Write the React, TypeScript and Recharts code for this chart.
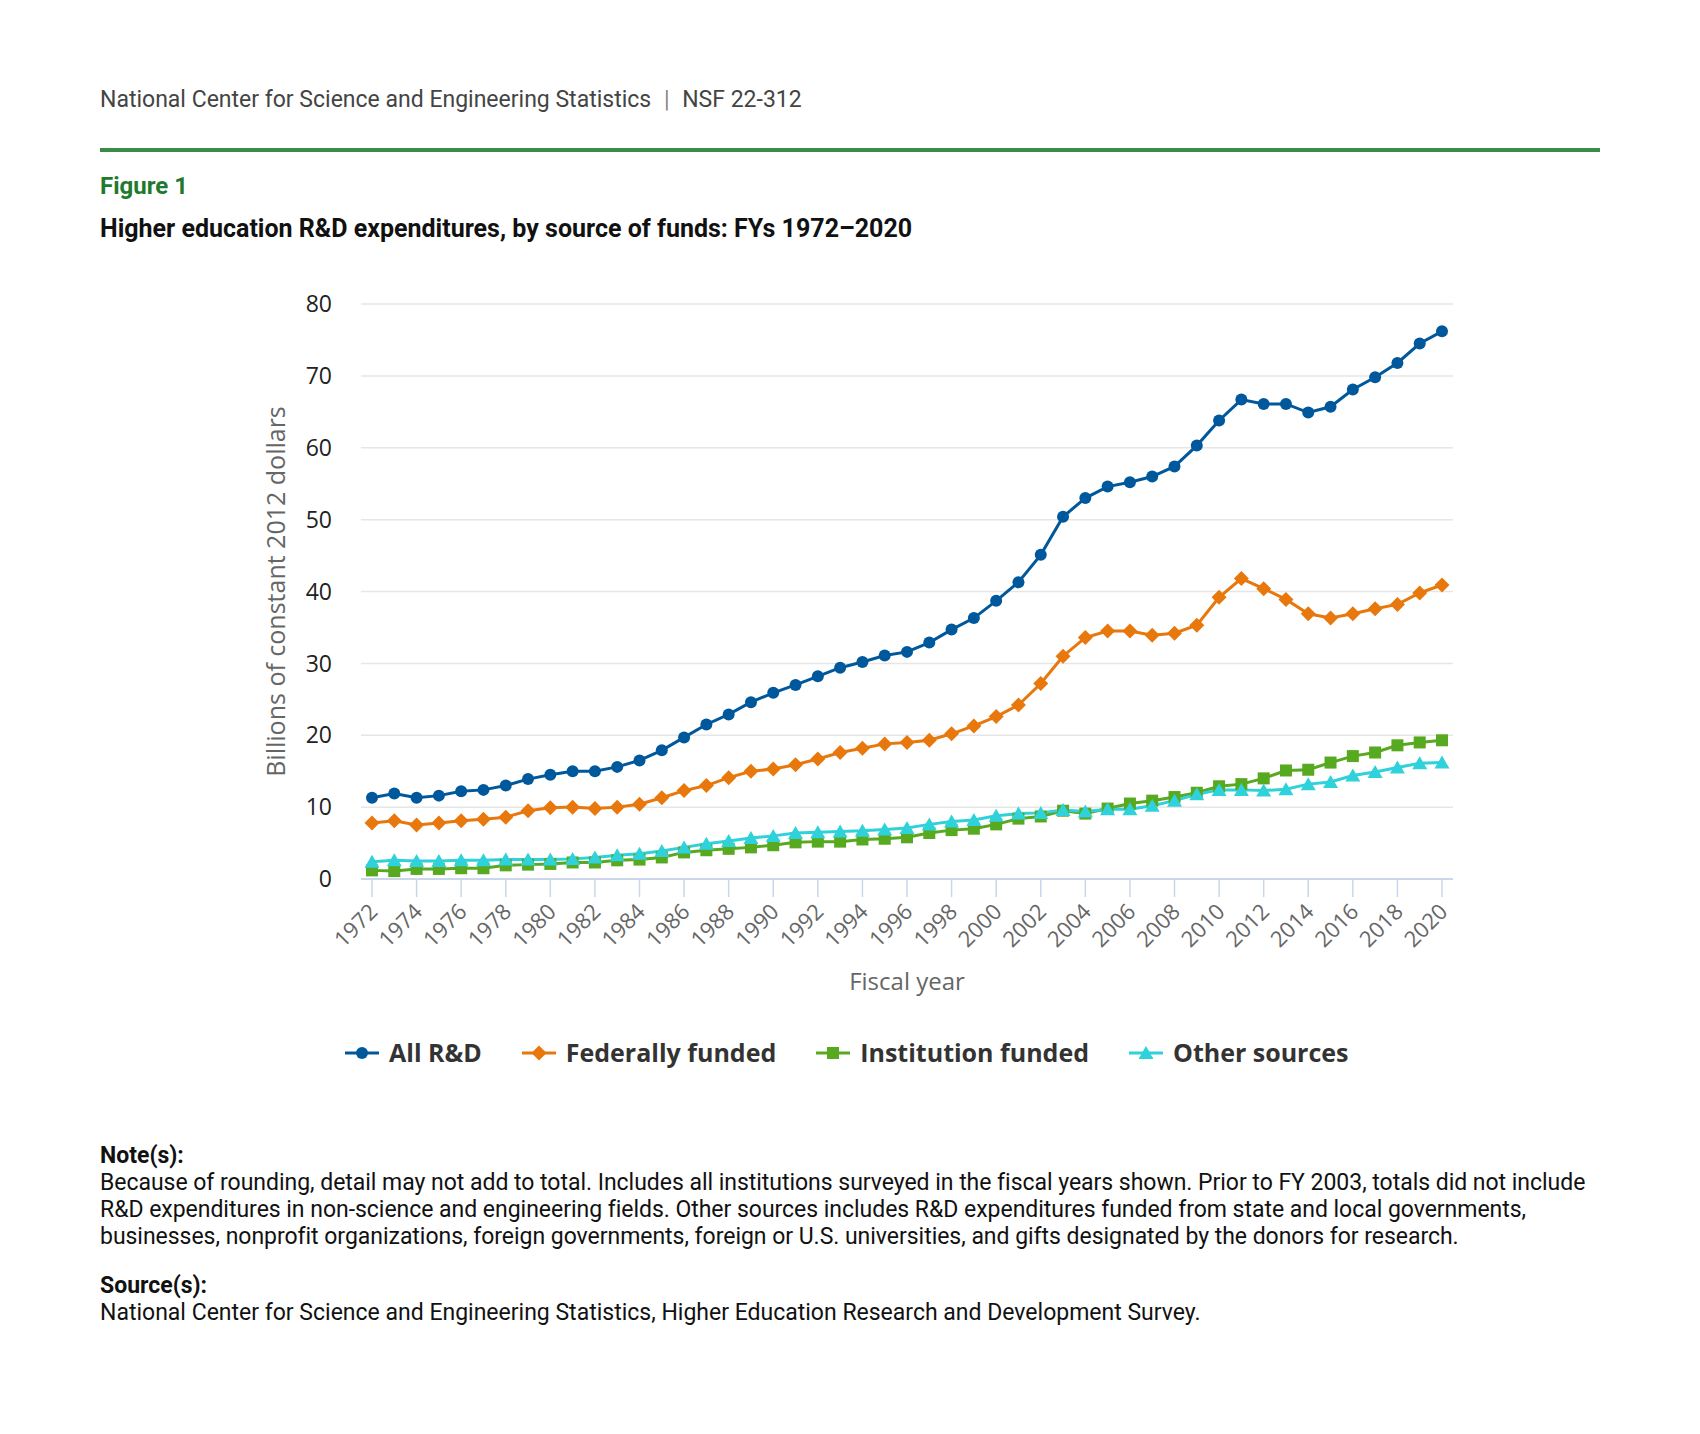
import { LineChart, Line, XAxis, YAxis, CartesianGrid, Legend } from 'recharts'

const years = [
  '1972', '1973', '1974', '1975', '1976', '1977', '1978', '1979', '1980', '1981',
  '1982', '1983', '1984', '1985', '1986', '1987', '1988', '1989', '1990', '1991',
  '1992', '1993', '1994', '1995', '1996', '1997', '1998', '1999', '2000', '2001',
  '2002', '2003', '2004', '2005', '2006', '2007', '2008', '2009', '2010', '2011',
  '2012', '2013', '2014', '2015', '2016', '2017', '2018', '2019', '2020',
]

const allRD = [
  11.3, 11.9, 11.3, 11.6, 12.2, 12.4, 13.0, 13.9, 14.5, 15.0,
  15.0, 15.6, 16.5, 17.9, 19.7, 21.5, 22.9, 24.6, 25.9, 27.0,
  28.2, 29.4, 30.2, 31.1, 31.6, 32.9, 34.7, 36.3, 38.7, 41.3,
  45.1, 50.4, 53.0, 54.6, 55.2, 56.0, 57.4, 60.3, 63.8, 66.7,
  66.1, 66.1, 64.9, 65.7, 68.1, 69.8, 71.8, 74.5, 76.2,
]

const federal = [
  7.8, 8.1, 7.5, 7.8, 8.1, 8.3, 8.6, 9.5, 9.9, 10.0,
  9.8, 10.0, 10.4, 11.3, 12.3, 13.0, 14.1, 15.0, 15.3, 15.9,
  16.7, 17.6, 18.2, 18.8, 19.0, 19.3, 20.2, 21.3, 22.6, 24.2,
  27.2, 31.0, 33.6, 34.5, 34.5, 33.9, 34.2, 35.3, 39.2, 41.8,
  40.4, 38.9, 36.9, 36.3, 36.9, 37.6, 38.2, 39.8, 40.9,
]

const institution = [
  1.2, 1.1, 1.4, 1.4, 1.5, 1.5, 1.9, 2.0, 2.1, 2.3,
  2.3, 2.6, 2.7, 3.0, 3.7, 4.0, 4.2, 4.4, 4.7, 5.1,
  5.2, 5.2, 5.5, 5.6, 5.8, 6.4, 6.8, 7.0, 7.6, 8.4,
  8.7, 9.5, 9.1, 9.8, 10.5, 10.9, 11.4, 12.0, 12.9, 13.2,
  14.0, 15.1, 15.2, 16.2, 17.1, 17.6, 18.6, 19.0, 19.3,
]

const other = [
  2.4, 2.6, 2.5, 2.5, 2.6, 2.6, 2.7, 2.7, 2.7, 2.8,
  3.0, 3.3, 3.5, 3.9, 4.4, 4.9, 5.3, 5.7, 6.0, 6.4,
  6.5, 6.6, 6.7, 6.9, 7.1, 7.6, 8.0, 8.2, 8.8, 9.1,
  9.2, 9.6, 9.4, 9.7, 9.7, 10.2, 10.9, 11.8, 12.4, 12.4,
  12.3, 12.5, 13.2, 13.5, 14.4, 14.9, 15.5, 16.1, 16.2,
]

const yTicks = [0, 10, 20, 30, 40, 50, 60, 70, 80]

const series = [
  { key: 'all', name: 'All R&D', color: '#00589c', marker: 'circle' },
  { key: 'federal', name: 'Federally funded', color: '#e8770c', marker: 'diamond' },
  { key: 'institution', name: 'Institution funded', color: '#57a91f', marker: 'square' },
  { key: 'other', name: 'Other sources', color: '#2fd1da', marker: 'triangle' },
]

const data = years.map((year, i) => ({
  year,
  all: allRD[i],
  federal: federal[i],
  institution: institution[i],
  other: other[i],
}))

const chartFont = '"Open Sans", sans-serif'
const textFont = 'Roboto, sans-serif'

function Marker({ type, cx, cy, color }: { type: string; cx: number; cy: number; color: string }) {
  if (type === 'circle') return <circle cx={cx} cy={cy} r={6} fill={color} />
  if (type === 'diamond')
    return <path d={`M${cx},${cy - 7.5}L${cx + 7.5},${cy}L${cx},${cy + 7.5}L${cx - 7.5},${cy}Z`} fill={color} />
  if (type === 'square') return <rect x={cx - 6} y={cy - 6} width={12} height={12} fill={color} />
  return <path d={`M${cx},${cy - 7}L${cx + 7.5},${cy + 6}L${cx - 7.5},${cy + 6}Z`} fill={color} />
}

const makeDot = (type: string, color: string) => (props: any) => {
  const { cx, cy, index } = props
  if (cx == null || cy == null) return <g key={`d-${index}`} />
  return <Marker key={`d-${index}`} type={type} cx={cx} cy={cy} color={color} />
}

function YearTick(props: any) {
  const { x, y, payload } = props
  return (
    <g transform={`translate(${x + 7},${y + 16})`}>
      <text transform="rotate(-45)" textAnchor="end" fill="#666" fontSize={22} fontFamily={chartFont}>
        {payload.value}
      </text>
    </g>
  )
}

function LegendContent() {
  return (
    <div style={{ display: 'flex', alignItems: 'center', gap: 40, fontFamily: chartFont }}>
      {series.map((s) => (
        <div key={s.key} style={{ display: 'flex', alignItems: 'center' }}>
          <svg width={34} height={20} style={{ marginRight: 10 }}>
            <line x1={0} y1={10} x2={34} y2={10} stroke={s.color} strokeWidth={3} />
            <Marker type={s.marker} cx={17} cy={10} color={s.color} />
          </svg>
          <span style={{ fontSize: 25, fontWeight: 700, color: '#333', lineHeight: '25px' }}>{s.name}</span>
        </div>
      ))}
    </div>
  )
}

export default function App() {
  return (
    <div style={{ position: 'absolute', left: 0, top: 0, width: 1700, height: 1434, background: '#fff' }}>
      <div style={{ position: 'absolute', left: 100, top: 88, fontFamily: textFont, fontSize: 23, lineHeight: '23px', color: '#444', whiteSpace: 'nowrap' }}>
        National Center for Science and Engineering Statistics <span style={{ color: '#888', margin: '0 7px' }}>|</span> NSF 22-312
      </div>
      <div style={{ position: 'absolute', left: 100, top: 148, width: 1500, height: 4, background: '#3a8b48' }} />
      <div style={{ position: 'absolute', left: 100, top: 174, fontFamily: textFont, fontSize: 24, lineHeight: '24px', fontWeight: 700, color: '#1f7a2e' }}>
        Figure 1
      </div>
      <div style={{ position: 'absolute', left: 100, top: 216, fontFamily: textFont, fontSize: 25, lineHeight: '25px', fontWeight: 700, color: '#111', whiteSpace: 'nowrap' }}>
        Higher education R&D expenditures, by source of funds: FYs 1972–2020
      </div>

      <div style={{ position: 'absolute', left: 0, top: 0 }}>
        <LineChart width={1700} height={1434} data={data} margin={{ top: 304, right: 247, bottom: 455, left: 0 }}>
          <CartesianGrid vertical={false} stroke="#e6e6e6" strokeWidth={1.5} horizontalValues={[10, 20, 30, 40, 50, 60, 70, 80]} />
          <XAxis
            dataKey="year"
            interval={1}
            height={100}
            padding={{ left: 11, right: 11 }}
            axisLine={{ stroke: '#ccd6eb', strokeWidth: 2 }}
            tickLine={{ stroke: '#ccd6eb', strokeWidth: 1.5 }}
            tickSize={18}
            tickMargin={0}
            tick={<YearTick />}
            label={({ viewBox }: any) => (
              <text x={viewBox.x + viewBox.width / 2} y={990} textAnchor="middle" fill="#666" fontSize={24} fontFamily={chartFont}>
                Fiscal year
              </text>
            )}
          />
          <YAxis
            width={361}
            domain={[0, 80]}
            ticks={yTicks}
            axisLine={false}
            tickLine={false}
            tickSize={0}
            tickMargin={29}
            tick={{ fill: '#222', fontSize: 23, fontFamily: chartFont }}
            label={({ viewBox }: any) => (
              <text
                x={275}
                y={viewBox.y + viewBox.height / 2}
                transform={`rotate(-90, 275, ${viewBox.y + viewBox.height / 2})`}
                textAnchor="middle"
                dominantBaseline="central"
                fill="#666"
                fontSize={25}
                fontFamily={chartFont}
              >
                Billions of constant 2012 dollars
              </text>
            )}
          />
          <Legend
            layout="horizontal"
            verticalAlign="middle"
            align="center"
            content={<LegendContent />}
            wrapperStyle={{ left: 345, top: 1040, width: 'auto' }}
          />
          {series.map((s) => (
            <Line
              key={s.key}
              type="linear"
              dataKey={s.key}
              name={s.name}
              stroke={s.color}
              strokeWidth={3}
              dot={makeDot(s.marker, s.color)}
              activeDot={false}
              isAnimationActive={false}
            />
          ))}
        </LineChart>
      </div>

      <div style={{ position: 'absolute', left: 100, top: 1142, width: 1580, fontFamily: textFont, fontSize: 23, lineHeight: '27px', color: '#111' }}>
        <div style={{ fontWeight: 700 }}>Note(s):</div>
        <div style={{ whiteSpace: 'nowrap', letterSpacing: '-0.03px' }}>
          Because of rounding, detail may not add to total. Includes all institutions surveyed in the fiscal years shown. Prior to FY 2003, totals did not include
          <br />
          R&D expenditures in non-science and engineering fields. Other sources includes R&D expenditures funded from state and local governments,
          <br />
          businesses, nonprofit organizations, foreign governments, foreign or U.S. universities, and gifts designated by the donors for research.
        </div>
        <div style={{ fontWeight: 700, marginTop: 22 }}>Source(s):</div>
        <div>National Center for Science and Engineering Statistics, Higher Education Research and Development Survey.</div>
      </div>
    </div>
  )
}
